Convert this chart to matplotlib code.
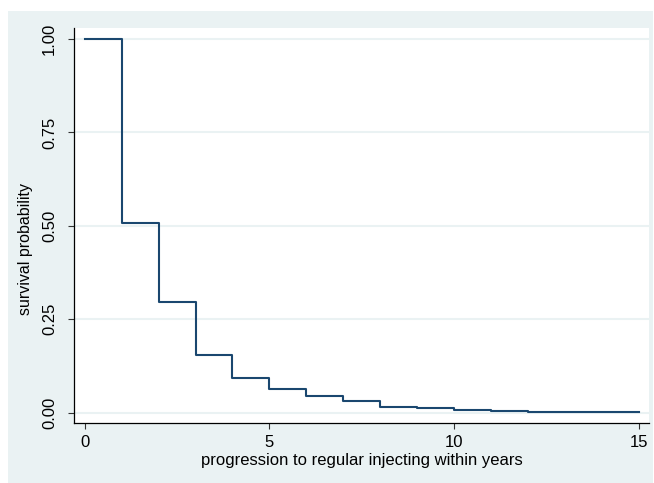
import matplotlib.pyplot as plt
from matplotlib.patches import Rectangle

# Kaplan-Meier style survival estimate
years = [0, 1, 2, 3, 4, 5, 6, 7, 8, 9, 10, 11, 12, 13, 14, 15]
survival = [1.000, 0.507, 0.296, 0.154, 0.094, 0.063, 0.045, 0.032,
            0.016, 0.012, 0.008, 0.005, 0.003, 0.001, 0.001, 0.001]
x_ticks = [0, 5, 10, 15]
y_ticks = [0.0, 0.25, 0.5, 0.75, 1.0]
y_ticklabels = ["0.00", "0.25", "0.50", "0.75", "1.00"]

plt.rcParams['font.family'] = ['Liberation Sans', 'DejaVu Sans']

W, H = 654, 483
fig = plt.figure(figsize=(W / 100, H / 100), dpi=100)
fig.patch.set_facecolor('white')

# stata-like outer background box
fig.patches.append(Rectangle((8 / W, 0), 645 / W, (H - 11) / H,
                             transform=fig.transFigure, facecolor='#EAF2F3',
                             edgecolor='none', zorder=-10))

left, right, top, bottom = 74.3, 648.7, 27.7, 423
ax = fig.add_axes([left / W, 1 - bottom / H, (right - left) / W, (bottom - top) / H])
ax.set_facecolor('white')

ax.plot(years, survival, drawstyle='steps-post', color='#1A476F', lw=1.5)

ax.set_xlim(-0.282, 15.27)
ax.set_ylim(-0.0276, 1.0305)
ax.set_xticks(x_ticks)
ax.set_yticks(y_ticks)
ax.set_yticklabels(y_ticklabels)

ax.grid(axis='y', color='#EAF2F3', lw=1.5)
ax.set_axisbelow(True)

for s in ['top', 'right']:
    ax.spines[s].set_visible(False)
for s in ['left', 'bottom']:
    ax.spines[s].set_color('black')
    ax.spines[s].set_linewidth(0.9)

ax.tick_params(axis='both', length=4.3, width=0.8, color='#333333', labelsize=12)
ax.tick_params(axis='x', pad=4.5)
ax.tick_params(axis='y', pad=8, labelrotation=90)
for lab in ax.get_yticklabels():
    lab.set_verticalalignment('center')

fig.text(362 / W, 1 - 460 / H, "progression to regular injecting within years",
         ha='center', va='center', fontsize=12)
fig.text(25.5 / W, 1 - 249 / H, "survival probability", rotation=90,
         ha='center', va='center', fontsize=11.5)

fig.savefig('out.png', dpi=100)
